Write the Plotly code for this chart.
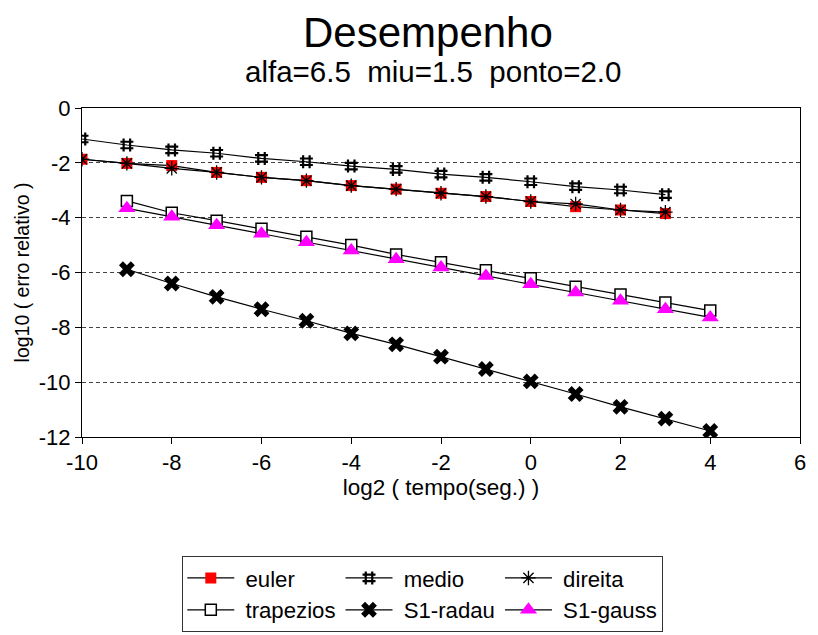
import plotly.graph_objects as go

# log2 of run time (seconds)
x_short = [-10, -9, -8, -7, -6, -5, -4, -3, -2, -1, 0, 1, 2, 3]
x_long = [-9, -8, -7, -6, -5, -4, -3, -2, -1, 0, 1, 2, 3, 4]

# log10 of relative error for each method
euler = [-1.87, -2.02, -2.10, -2.35, -2.53, -2.65, -2.83, -2.96, -3.11, -3.23, -3.41, -3.60, -3.72, -3.85]
medio = [-1.13, -1.35, -1.53, -1.65, -1.84, -1.96, -2.12, -2.24, -2.41, -2.53, -2.69, -2.87, -2.99, -3.16]
direita = [-1.87, -2.02, -2.20, -2.35, -2.53, -2.65, -2.83, -2.96, -3.11, -3.23, -3.41, -3.50, -3.72, -3.80]
trapezios = [-3.39, -3.82, -4.11, -4.40, -4.70, -5.00, -5.34, -5.63, -5.92, -6.21, -6.52, -6.80, -7.09, -7.39]
s1_radau = [-5.88, -6.40, -6.89, -7.34, -7.76, -8.22, -8.62, -9.07, -9.52, -9.97, -10.43, -10.90, -11.33, -11.78]
s1_gauss = [-3.66, -3.97, -4.28, -4.59, -4.90, -5.20, -5.52, -5.82, -6.13, -6.43, -6.73, -7.03, -7.34, -7.64]

# axis ticks (plain hyphen for negatives)
x_ticks = [-10, -8, -6, -4, -2, 0, 2, 4, 6]
y_ticks = [0, -2, -4, -6, -8, -10, -12]

FONT = "Arial, Liberation Sans, sans-serif"
LINE = dict(color="black", width=1.2)
PAD = "\u00a0"  # small gap between legend symbol and label

series = [
    ("euler", x_short, euler, "g1",
     dict(symbol="square", size=11, color="#ff0000", line=dict(width=0))),
    ("medio", x_short, medio, "g2",
     dict(symbol="hash", size=13, color="black", line=dict(width=2.2, color="black"))),
    ("direita", x_short, direita, "g3",
     dict(symbol="asterisk-open", size=12, color="black", line=dict(width=1.3, color="black"))),
    ("trapezios", x_long, trapezios, "g1",
     dict(symbol="square", size=11, color="white", line=dict(width=1.5, color="black"))),
    ("S1-radau", x_long, s1_radau, "g2",
     dict(symbol="x", size=14, color="black", line=dict(width=0))),
    ("S1-gauss", x_long, s1_gauss, "g3",
     dict(symbol="triangle-up", size=15, color="#ff00ff", line=dict(width=0))),
]

fig = go.Figure()
for name, xs, ys, grp, mk in series:
    fig.add_trace(go.Scatter(
        x=xs, y=ys, name=PAD + name, mode="lines+markers",
        line=LINE, marker=mk, legendgroup=grp,
    ))

axis_common = dict(
    showline=True, linecolor="black", linewidth=1, mirror=True,
    ticks="outside", ticklen=6, tickcolor="black", tickwidth=1,
    tickfont=dict(family=FONT, size=22, color="black"),
    zeroline=False,
)

fig.update_xaxes(
    range=[-10, 6], tickvals=x_ticks, ticktext=[str(v) for v in x_ticks], showgrid=False,
    title=dict(text="log2 ( tempo(seg.) )", font=dict(family=FONT, size=22.5, color="black"), standoff=3),
    **axis_common,
)
fig.update_yaxes(
    range=[-12, 0], tickvals=y_ticks, ticktext=[str(v) for v in y_ticks], showgrid=True,
    gridcolor="#444444", gridwidth=1, griddash="4px,3px",
    title=dict(text="log10 ( erro relativo )", font=dict(family=FONT, size=19.5, color="black"), standoff=3),
    **axis_common,
)

fig.add_annotation(
    text="Desempenho", xref="paper", yref="paper",
    x=(430 - 82) / 723, y=(437 - 33) / 329, xanchor="center", yanchor="middle",
    showarrow=False, font=dict(family=FONT, size=42, color="black"),
)
fig.add_annotation(
    text="alfa=6.5\u00a0\u00a0miu=1.5\u00a0\u00a0ponto=2.0", xref="paper", yref="paper",
    x=(435 - 82) / 723, y=(437 - 71) / 329, xanchor="center", yanchor="middle",
    showarrow=False, font=dict(family=FONT, size=29.5, color="black"),
)

fig.update_layout(
    width=818, height=635,
    margin=dict(l=82, r=13, t=108, b=198),
    paper_bgcolor="white", plot_bgcolor="white",
    showlegend=True,
    legend=dict(
        orientation="h", traceorder="grouped", tracegroupgap=3,
        groupclick="toggleitem", itemwidth=47,
        x=(183 - 82) / 723, xref="paper", xanchor="left",
        y=(635 - 556) / 635, yref="container", yanchor="top",
        bordercolor="#333333", borderwidth=1, bgcolor="white",
        font=dict(family=FONT, size=22.2, color="black"),
    ),
)

fig.write_html("out.html")
